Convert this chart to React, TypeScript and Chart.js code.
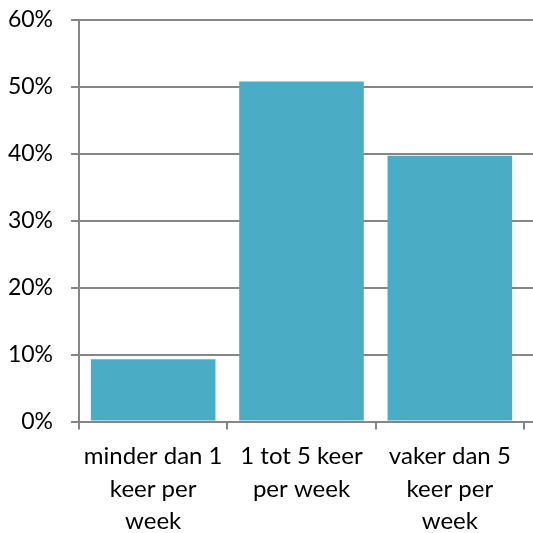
import React, { useEffect, useRef } from "react";
import { Chart, registerables } from "chart.js";

Chart.register(...registerables);

const categories: string[][] = [
  ["minder dan 1", "keer per", "week"],
  ["1 tot 5 keer", "per week"],
  ["vaker dan 5", "keer per", "week"],
];
const values: number[] = [9.3, 50.8, 39.7];
const yTicks: number[] = [0, 10, 20, 30, 40, 50, 60];

const GRID = "#868686";
const BAR = "#4BACC6";

const extendGrid = {
  id: "extendGrid",
  afterDraw(chart: any) {
    const { ctx, chartArea, scales } = chart;
    const y = scales.y;
    ctx.save();
    ctx.strokeStyle = GRID;
    ctx.lineWidth = 2;
    for (const t of yTicks) {
      const py = Math.round(y.getPixelForValue(t));
      ctx.beginPath();
      ctx.moveTo(chartArea.right, py);
      ctx.lineTo(chart.width, py);
      ctx.stroke();
    }
    ctx.restore();
  },
};

export default function App() {
  const ref = useRef<HTMLCanvasElement>(null);
  useEffect(() => {
    if (!ref.current) return;
    const chart = new Chart(ref.current, {
      type: "bar",
      data: {
        labels: categories,
        datasets: [
          {
            data: values,
            backgroundColor: BAR,
            borderWidth: 0,
            categoryPercentage: 0.84,
            barPercentage: 1,
          },
        ],
      },
      options: {
        animation: false,
        responsive: false,
        maintainAspectRatio: false,
        layout: { padding: { top: 20, right: 9, left: 0, bottom: 0 } },
        plugins: { legend: { display: false }, tooltip: { enabled: false } },
        scales: {
          x: {
            offset: true,
            grid: {
              offset: true,
              drawOnChartArea: false,
              drawTicks: true,
              tickLength: 8,
              color: GRID,
              lineWidth: 2,
            },
            border: { display: false },
            ticks: {
              color: "#000",
              font: { family: "Lato", size: 24, lineHeight: 1.37 },
              padding: 10,
              maxRotation: 0,
              autoSkip: false,
            },
            afterFit: (s: any) => {
              s.height = 111.5;
              s.paddingLeft = 0;
              s.paddingRight = 0;
            },
          },
          y: {
            min: 0,
            max: 60,
            grid: {
              color: GRID,
              lineWidth: 2,
              tickLength: 8,
            },
            border: { display: true, color: GRID, width: 2 },
            ticks: {
              stepSize: 10,
              color: "#000",
              font: { family: "Lato", size: 23, lineHeight: 1.2 },
              padding: 18,
              callback: (v: any) => v + "%",
            },
            afterFit: (s: any) => {
              s.width = 79;
              s.paddingTop = 0;
              s.paddingBottom = 0;
            },
          },
        },
      },
      plugins: [extendGrid],
    });
    return () => chart.destroy();
  }, []);
  return (
    <div style={{ position: "fixed", left: 0, top: 0, width: 533, height: 533, background: "#fff" }}>
      <canvas ref={ref} width={533} height={533} />
    </div>
  );
}
